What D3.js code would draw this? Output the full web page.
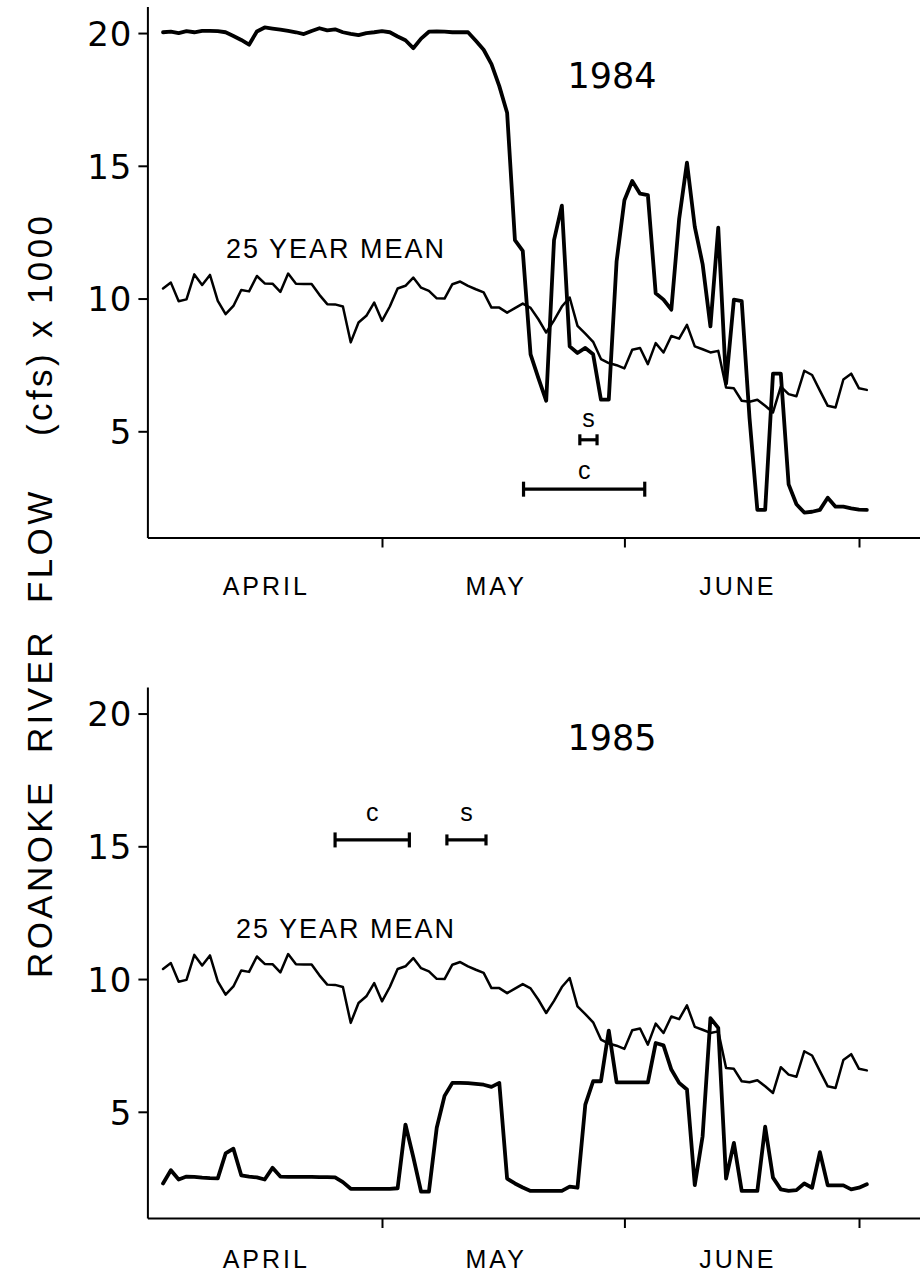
<!DOCTYPE html>
<html>
<head>
<meta charset="utf-8">
<script src="https://cdn.jsdelivr.net/npm/d3@7"></script>
<style>
  html, body { margin: 0; padding: 0; background: #fff; }
  svg { display: block; }
  text { font-family: "Liberation Sans", Arial, sans-serif; fill: #000; }
</style>
</head>
<body>
<svg id="chart" width="920" height="1275"></svg>
<script>
// ---------------- DATA ----------------
// daily flow, cfs x 1000; first value is April 3 (day 2 counted from April 1 = 0)
const firstDay = 2;

const mean25 = [
  10.38, 10.60, 9.90, 9.97, 10.91, 10.51, 10.89, 9.91, 9.41, 9.72,
  10.32, 10.27, 10.85, 10.57, 10.56, 10.25, 10.94, 10.56, 10.55, 10.55,
  10.14, 9.79, 9.78, 9.70, 8.35, 9.10, 9.35, 9.85, 9.16, 9.70,
  10.38, 10.48, 10.79, 10.41, 10.29, 10.01, 10.00, 10.54, 10.64, 10.48,
  10.35, 10.23, 9.66, 9.66, 9.47, 9.64, 9.81, 9.65, 9.22, 8.72,
  9.18, 9.70, 10.04, 8.97, 8.68, 8.37, 7.72, 7.57, 7.49, 7.37,
  8.07, 8.14, 7.53, 8.32, 7.97, 8.59, 8.49, 9.01, 8.20, 8.09,
  7.97, 8.03, 6.65, 6.62, 6.15, 6.11, 6.19, 5.96, 5.71, 6.68,
  6.40, 6.32, 7.28, 7.12, 6.53, 5.96, 5.90, 6.95, 7.17, 6.62,
  6.56
];

const flow1984 = [
  20.03, 20.05, 20.00, 20.07, 20.03, 20.08, 20.08, 20.07, 20.03, 19.89,
  19.74, 19.56, 20.06, 20.21, 20.17, 20.13, 20.08, 20.03, 19.96, 20.08,
  20.18, 20.10, 20.14, 20.03, 19.97, 19.92, 20.00, 20.03, 20.07, 20.03,
  19.87, 19.73, 19.43, 19.79, 20.05, 20.06, 20.05, 20.03, 20.03, 20.03,
  19.71, 19.37, 18.83, 18.00, 17.00, 12.20, 11.80, 7.90, 7.00, 6.15,
  12.20, 13.50, 8.20, 7.95, 8.14, 7.90, 6.19, 6.19, 11.40, 13.70,
  14.43, 13.95, 13.90, 10.20, 9.96, 9.58, 13.00, 15.12, 12.70, 11.30,
  8.95, 12.67, 6.80, 9.96, 9.90, 5.50, 2.04, 2.04, 7.17, 7.17,
  3.00, 2.25, 1.94, 1.97, 2.04, 2.50, 2.16, 2.16, 2.10, 2.05,
  2.04
];

const flow1985 = [
  2.30, 2.80, 2.45, 2.56, 2.55, 2.52, 2.50, 2.49, 3.43, 3.61,
  2.61, 2.56, 2.53, 2.45, 2.89, 2.56, 2.55, 2.55, 2.55, 2.55,
  2.54, 2.54, 2.53, 2.35, 2.10, 2.10, 2.10, 2.10, 2.10, 2.10,
  2.12, 4.52, 3.30, 1.99, 1.99, 4.40, 5.60, 6.09, 6.09, 6.08,
  6.05, 6.02, 5.94, 6.09, 2.48, 2.30, 2.15, 2.02, 2.02, 2.02,
  2.02, 2.02, 2.18, 2.14, 5.27, 6.15, 6.15, 8.06, 6.11, 6.11,
  6.11, 6.11, 6.11, 7.59, 7.50, 6.59, 6.09, 5.84, 2.24, 4.08,
  8.53, 8.16, 2.48, 3.83, 2.02, 2.02, 2.02, 4.44, 2.52, 2.08,
  2.02, 2.05, 2.30, 2.14, 3.48, 2.23, 2.23, 2.23, 2.08, 2.14,
  2.27
];

const yTicks = [5, 10, 15, 20];
const monthTickDays = [30, 61, 91];          // May 1, June 1, July 1
const monthLabels = ["APRIL", "MAY", "JUNE"];
const monthLabelDays = [15.2, 44.6, 75.5];
const years = ["1984", "1985"];
const meanLabel = "25 YEAR MEAN";

// spawning periods: [startDay, endDay] counted from April 1 = 0
const c1984 = [48.1, 63.6];
const s1984 = [55.3, 57.5];
const c1985 = [24.0, 33.5];
const s1985 = [38.3, 43.3];

const yTitle = "ROANOKE  RIVER  FLOW    (cfs) x 1000";

// ---------------- DRAWING ----------------
const svg = d3.select("#chart");
const days = d3.range(firstDay, firstDay + mean25.length);

const x = d3.scaleLinear().domain([0, 98.8]).range([147.4, 920]);

const panels = [
  { year: years[0], flow: flow1984, yr: [537.5, 6.5],
    c: c1984, s: s1984, cLevel: 2.82, sLevel: 4.68,
    cText: 10, sText: 13, meanX: 226, meanTextY: 258, yearY: 88, monthY: 595 },
  { year: years[1], flow: flow1985, yr: [1218, 687],
    c: c1985, s: s1985, cLevel: 15.24, sLevel: 15.24,
    cText: 19, sText: 19, meanX: 236, meanTextY: 938, yearY: 750, monthY: 1268 }
];

panels.forEach(p => {
  const y = d3.scaleLinear().domain([1, 21]).range(p.yr);
  const g = svg.append("g");

  // y axis
  const ya = g.append("g")
    .attr("transform", `translate(${x(0)},0)`)
    .call(d3.axisLeft(y).tickValues(yTicks).tickSize(9).tickSizeOuter(0).tickPadding(6));
  ya.select(".domain").attr("stroke", "#000").attr("stroke-width", 2);
  ya.selectAll(".tick line").attr("stroke", "#000").attr("stroke-width", 2);
  ya.selectAll(".tick text")
    .style("font-family", "'DejaVu Sans', sans-serif")
    .style("font-size", "34px")
    .attr("letter-spacing", "1")
    .attr("dy", "0.36em");

  // x axis
  const xa = g.append("g")
    .attr("transform", `translate(0,${p.yr[0]})`)
    .call(d3.axisBottom(x).tickValues(monthTickDays).tickSize(10).tickSizeOuter(0).tickFormat(""));
  xa.select(".domain").attr("stroke", "#000").attr("stroke-width", 2);
  xa.selectAll(".tick line").attr("stroke", "#000").attr("stroke-width", 2);

  // month labels
  g.selectAll(".month").data(monthLabels).join("text")
    .attr("x", (d, i) => x(monthLabelDays[i]))
    .attr("y", p.monthY)
    .attr("text-anchor", "middle")
    .style("font-size", "25px")
    .attr("letter-spacing", "3")
    .text(d => d);

  const line = d3.line().x((d, i) => x(days[i])).y(d => y(d));

  // mean line
  g.append("path").datum(mean25)
    .attr("fill", "none").attr("stroke", "#000").attr("stroke-width", 2.5)
    .attr("stroke-linejoin", "round").attr("stroke-linecap", "round")
    .attr("d", line);

  // flow line
  g.append("path").datum(p.flow)
    .attr("fill", "none").attr("stroke", "#000").attr("stroke-width", 3.8)
    .attr("stroke-linejoin", "round").attr("stroke-linecap", "round")
    .attr("d", line);

  // labels
  g.append("text")
    .attr("x", 612).attr("y", p.yearY)
    .attr("text-anchor", "middle")
    .style("font-family", "'DejaVu Sans', sans-serif")
    .style("font-size", "35px")
    .text(p.year);

  g.append("text")
    .attr("x", p.meanX).attr("y", p.meanTextY)
    .attr("textLength", 218).attr("lengthAdjust", "spacing")
    .style("font-size", "27px")
    .text(meanLabel);

  // period bars
  [[p.c, p.cLevel, "c", p.cText, 7.5], [p.s, p.sLevel, "s", p.sText, 5.5]].forEach(([rng, lvl, lab, off, cap]) => {
    const yy = y(lvl);
    const bg = g.append("g");
    bg.append("line").attr("x1", x(rng[0])).attr("x2", x(rng[1]))
      .attr("y1", yy).attr("y2", yy).attr("stroke", "#000").attr("stroke-width", 3.2);
    rng.forEach(r => bg.append("line").attr("x1", x(r)).attr("x2", x(r))
      .attr("y1", yy - cap).attr("y2", yy + cap).attr("stroke", "#000").attr("stroke-width", 3.2));
    bg.append("text").attr("x", x((rng[0] + rng[1]) / 2)).attr("y", yy - off)
      .attr("text-anchor", "middle").style("font-size", "25px").text(lab);
  });
});

// y axis title
svg.append("text")
  .attr("transform", "translate(52,597) rotate(-90)")
  .attr("text-anchor", "middle")
  .attr("textLength", 762).attr("lengthAdjust", "spacing")
  .style("font-size", "35px")
  .style("white-space", "pre")
  .attr("xml:space", "preserve")
  .text(yTitle);
</script>
</body>
</html>
